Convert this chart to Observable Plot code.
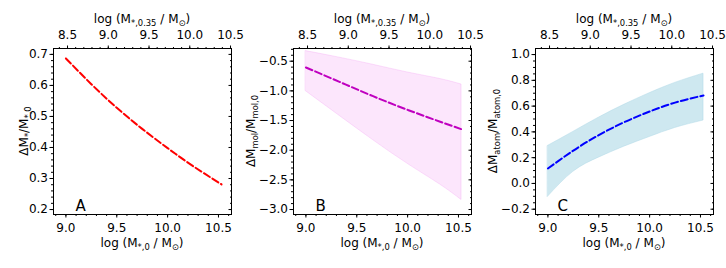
<!DOCTYPE html>
<html><head><meta charset="utf-8">
<script src="https://cdn.jsdelivr.net/npm/d3@7"></script>
<script src="https://cdn.jsdelivr.net/npm/@observablehq/plot@0.6"></script>
<style>
body{margin:0;background:#fff;}
#wrap{position:relative;width:726px;height:268px;font-family:"DejaVu Sans",sans-serif;overflow:hidden;}
#wrap svg{position:absolute;top:0;overflow:visible;}
</style></head><body><div id="wrap"></div>
<script>
// ---- data ----
const massA = [9.0, 9.25, 9.5, 9.75, 10.0, 10.25, 10.53];
const starFrac = [0.687, 0.604, 0.528, 0.460, 0.398, 0.340, 0.281];

const massB = [9.0, 9.33, 9.66, 10.0, 10.32, 10.53];
const molMid = [-0.606, -0.848, -1.09, -1.32, -1.52, -1.647];
const molHi  = [-0.33, -0.44, -0.56, -0.69, -0.80, -0.893];
const molLo  = [-1.006, -1.42, -1.83, -2.23, -2.58, -2.84];

const massC = [9.0, 9.25, 9.5, 9.75, 10.0, 10.25, 10.53];
const atomMid = [0.116, 0.255, 0.375, 0.475, 0.558, 0.627, 0.683];
const atomHi  = [0.291, 0.40, 0.51, 0.61, 0.70, 0.78, 0.852];
const atomLo  = [-0.104, 0.09, 0.20, 0.285, 0.36, 0.43, 0.488];

const bottomTicks = [9.0, 9.5, 10.0, 10.5];
const topTicks = [8.5, 9.0, 9.5, 10.0, 10.5];
const yTicksA = [0.2, 0.3, 0.4, 0.5, 0.6, 0.7];
const yTicksB = [-3.0, -2.5, -2.0, -1.5, -1.0, -0.5];
const yTicksC = [-0.2, 0.0, 0.2, 0.4, 0.6, 0.8, 1.0];
const panelLetters = ["A", "B", "C"];

const xDomain = [8.878, 10.628];
const topDomain = [8.328, 10.512];
const yDomA = [0.184, 0.719];
const yDomB = [-3.084, -0.286];
const yDomC = [-0.241, 1.047];

// ---- helpers ----
const fmt1 = d3.format(".1f");
const topToBottom = t => xDomain[0] + (t - topDomain[0]) * (xDomain[1] - xDomain[0]) / (topDomain[1] - topDomain[0]);
const bottomToTop = b => topDomain[0] + (b - xDomain[0]) * (topDomain[1] - topDomain[0]) / (xDomain[1] - xDomain[0]);
const rng = (a, b, s) => d3.range(Math.round(a / s), Math.round(b / s) + 1).map(k => +(k * s).toFixed(4));

const W = 242, H = 268, ML = 53, MR = 11, MT = 48, MB = 54;
const FS = 12;

function panel(opts) {
  const {yDomain, yTicks, yMinorStep, marks, letter} = opts;
  const minorX = rng(8.9, 10.6, 0.1);
  const minorTop = rng(8.4, 10.5, 0.1).map(topToBottom);
  const minorY = rng(yDomain[0], yDomain[1], yMinorStep).filter(v => v >= yDomain[0] && v <= yDomain[1]);
  return Plot.plot({
    width: W, height: H, marginLeft: ML, marginRight: MR, marginTop: MT, marginBottom: MB,
    style: {fontFamily: "DejaVu Sans, sans-serif", fontSize: FS + "px", color: "black", background: "transparent"},
    x: {domain: xDomain},
    y: {domain: yDomain},
    marks: [
      ...marks,
      Plot.frame({stroke: "black", strokeWidth: 1}),
      Plot.axisX({ticks: bottomTicks, tickFormat: fmt1, tickSize: 3.5, tickPadding: 5, label: null, fontSize: FS}),
      Plot.axisX({ticks: minorX, fill: "none", tickSize: 2, label: null}),
      Plot.axisX({anchor: "top", ticks: topTicks.map(topToBottom), tickFormat: d => fmt1(bottomToTop(d)), tickSize: 3.5, tickPadding: 6, label: null, fontSize: FS}),
      Plot.axisX({anchor: "top", ticks: minorTop, fill: "none", tickSize: 2, label: null}),
      Plot.axisY({ticks: yTicks, tickFormat: fmt1, tickSize: 3.5, tickPadding: 2, label: null, fontSize: FS}),
      Plot.axisY({ticks: minorY, fill: "none", tickSize: 2, label: null}),
      Plot.axisY({anchor: "right", ticks: yTicks, fill: "none", tickSize: 3.5, insetRight: 3.5, label: null}),
      Plot.axisY({anchor: "right", ticks: minorY, fill: "none", tickSize: 2, insetRight: 2, label: null}),
      Plot.text([letter], {frameAnchor: "bottom-left", text: d => d, dx: 22, dy: -4, textAnchor: "start", lineAnchor: "bottom", fontSize: 15, fill: "black"})
    ]
  });
}

// text with subscripts; shifts are undone on the following tspan (no empty tspans)
function richText(sel, parts, size) {
  let pending = 0;
  for (const [txt, sub] of parts) {
    const shift = sub ? size * 0.22 : 0;
    sel.append("tspan")
      .attr("font-size", sub ? size * 0.7 : size)
      .attr("dy", shift - pending)
      .text(txt);
    pending = shift;
  }
}

function decorate(svg, yParts, yLabelX) {
  const s = d3.select(svg);
  const cx = ML + (W - ML - MR) / 2;
  const cy = MT + (H - MT - MB) / 2;
  const LS = 12;
  const bl = s.append("text").attr("x", cx).attr("y", 247).attr("text-anchor", "middle").attr("fill", "black").attr("font-size", LS);
  richText(bl, [["log (M"], ["*,0", true], [" / M"], ["\u2299", true], [")"]], LS);
  const tl = s.append("text").attr("x", cx).attr("y", 23).attr("text-anchor", "middle").attr("fill", "black").attr("font-size", LS);
  richText(tl, [["log (M"], ["*,0.35", true], [" / M"], ["\u2299", true], [")"]], LS);
  const yl = s.append("text").attr("transform", `translate(${yLabelX},${cy}) rotate(-90)`).attr("text-anchor", "middle").attr("fill", "black").attr("font-size", LS);
  richText(yl, yParts, LS);
}

const dash = "7,3";
const tblA = massA.map((m, i) => ({m, v: starFrac[i]}));
const tblB = massB.map((m, i) => ({m, v: molMid[i], lo: molLo[i], hi: molHi[i]}));
const tblC = massC.map((m, i) => ({m, v: atomMid[i], lo: atomLo[i], hi: atomHi[i]}));

const pA = panel({yDomain: yDomA, yTicks: yTicksA, yMinorStep: 0.02, letter: panelLetters[0], marks: [
  Plot.line(tblA, {x: "m", y: "v", stroke: "#ff0000", strokeWidth: 2, strokeDasharray: dash, curve: "natural"})
]});
const pB = panel({yDomain: yDomB, yTicks: yTicksB, yMinorStep: 0.1, letter: panelLetters[1], marks: [
  Plot.areaY(tblB, {x: "m", y1: "lo", y2: "hi", fill: "violet", fillOpacity: 0.2, stroke: "violet", strokeOpacity: 0.3, strokeWidth: 0.8, curve: "natural"}),
  Plot.line(tblB, {x: "m", y: "v", stroke: "#bf00bf", strokeWidth: 2, strokeDasharray: dash, curve: "natural"})
]});
const pC = panel({yDomain: yDomC, yTicks: yTicksC, yMinorStep: 0.05, letter: panelLetters[2], marks: [
  Plot.areaY(tblC, {x: "m", y1: "lo", y2: "hi", fill: "lightblue", fillOpacity: 0.6, stroke: "lightblue", strokeOpacity: 0.6, strokeWidth: 0.8, curve: "natural"}),
  Plot.line(tblC, {x: "m", y: "v", stroke: "#0000ff", strokeWidth: 2, strokeDasharray: dash, curve: "natural"})
]});

decorate(pA, [["\u0394M"], ["*", true], ["/M"], ["*,0", true]], 28);
decorate(pB, [["\u0394M"], ["mol", true], ["/M"], ["mol,0", true]], 15);
decorate(pC, [["\u0394M"], ["atom", true], ["/M"], ["atom,0", true]], 15);

const wrap = document.getElementById("wrap");
[[pA, 0], [pB, 240], [pC, 482]].forEach(([svg, left]) => {
  svg.style.left = left + "px";
  wrap.appendChild(svg);
});
</script></body></html>
